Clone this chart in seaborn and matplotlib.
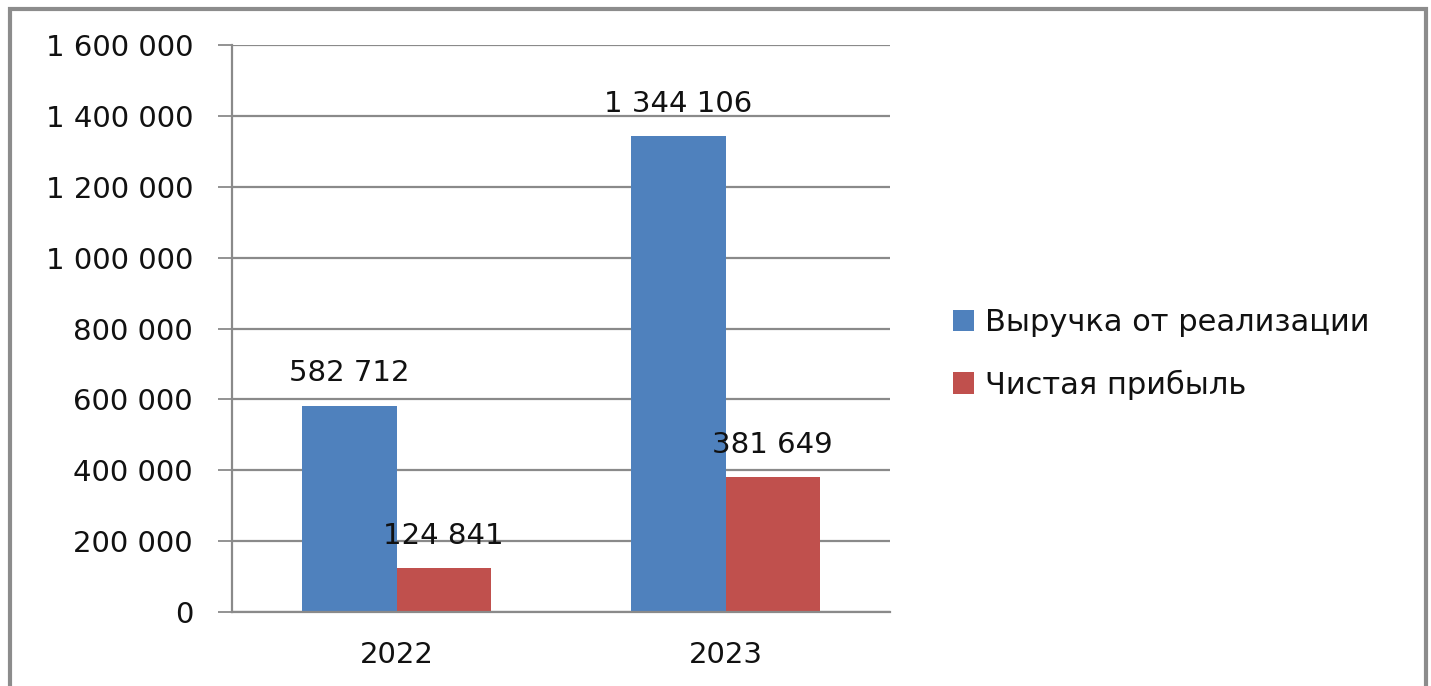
import pandas as pd
import numpy as np
import matplotlib
matplotlib.use("Agg")
import matplotlib.pyplot as plt
import seaborn as sns
from matplotlib.patches import Rectangle
from matplotlib.ticker import FuncFormatter, FixedLocator

years = ["2022", "2023"]
series_names = ["Выручка от реализации", "Чистая прибыль"]
revenue = [582712, 1344106]
profit = [124841, 381649]
colors = ["#4F81BD", "#C0504D"]
yticks = [0, 200000, 400000, 600000, 800000, 1000000, 1200000, 1400000, 1600000]

def fmt(v):
    # thousands separated by spaces, like the original
    return "{:,.0f}".format(v).replace(",", " ")

data = pd.DataFrame({
    "year": years * 2,
    "series": [series_names[0]] * 2 + [series_names[1]] * 2,
    "value": revenue + profit,
})

sns.set_style("white")
plt.rcParams["font.family"] = ["DejaVu Sans"]
grid_c = "#8a8a8a"
fs = 21

fig = plt.figure(figsize=(14.31, 6.86), dpi=100)
ax = fig.add_axes([232 / 1431, 1 - 612 / 686, (890 - 232) / 1431, (612 - 45) / 686])

sns.barplot(data=data, x="year", y="value", hue="series", palette=colors,
            width=0.572, gap=0, saturation=1, order=years, hue_order=series_names,
            linewidth=0, ax=ax, legend=True)

for c in ax.containers:
    ax.bar_label(c, labels=[fmt(v) for v in c.datavalues], padding=13,
                 fontsize=fs, color="#111111")

ax.set_xlim(-0.5, 1.5)
ax.set_ylim(0, 1600000)
ax.set_yticks(yticks)
ax.yaxis.set_major_formatter(FuncFormatter(lambda v, p: fmt(v)))
ax.grid(axis="y", color=grid_c, linewidth=1.6)
ax.set_axisbelow(True)
ax.set_xlabel("")
ax.set_ylabel("")

# x ticks at category boundaries, labels centred
ax.xaxis.set_minor_locator(FixedLocator([-0.5, 0.5, 1.5]))
ax.tick_params(axis="x", which="major", length=0, pad=21, labelsize=fs, labelcolor="#111111")
ax.tick_params(axis="x", which="minor", length=8, width=1.3, color=grid_c, direction="out")
ax.tick_params(axis="y", length=10, width=1.3, color=grid_c, direction="out", pad=18,
               labelsize=fs, labelcolor="#111111", left=True)

for s in ["top", "right"]:
    ax.spines[s].set_visible(False)
for s in ["left", "bottom"]:
    ax.spines[s].set_color(grid_c)
    ax.spines[s].set_linewidth(1.6)

handles, labels = ax.get_legend_handles_labels()
ax.get_legend().remove()
fig.legend(handles, labels, loc="center left", bbox_to_anchor=(925 / 1431, 1 - 354 / 686),
           frameon=False, fontsize=22, handlelength=0.7, handleheight=0.7,
           handletextpad=0.35, labelspacing=1.05, labelcolor="#111111")

# outer frame of the pasted chart
fig.add_artist(Rectangle((9.5 / 1431, -0.05), (1426 - 9.5) / 1431, 1.05 - 9.5 / 686,
                         transform=fig.transFigure, fill=False,
                         edgecolor="#8c8c8c", linewidth=3))

fig.savefig("out.png", dpi=100)
